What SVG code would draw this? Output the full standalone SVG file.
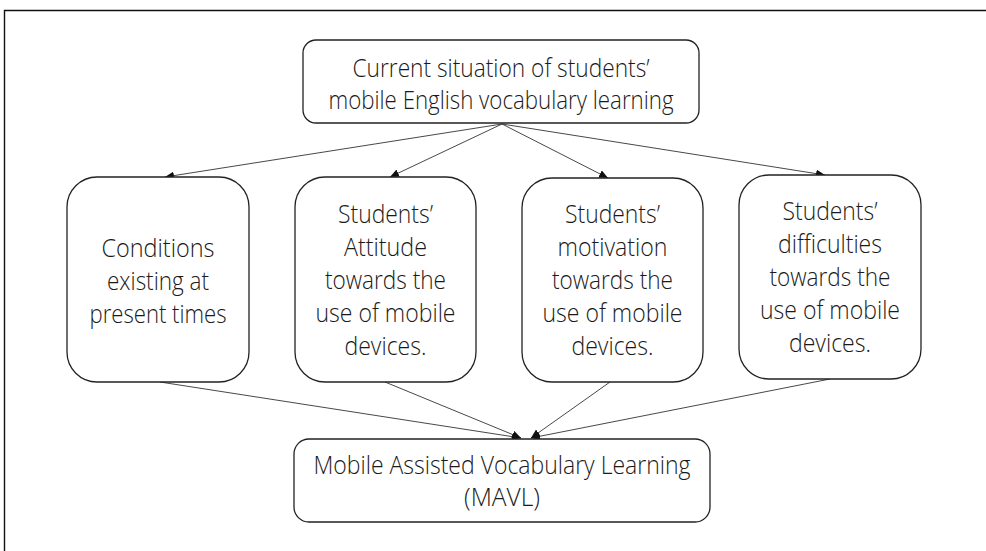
<svg xmlns="http://www.w3.org/2000/svg" width="986" height="551" viewBox="0 0 986 551">
  <style>
    .frame { fill: none; stroke: #111; stroke-width: 1.4; }
    .box { fill: #fff; stroke: #222; stroke-width: 1.3; }
    .edge { fill: none; stroke: #333; stroke-width: 0.9; }
    .label { font-family: "Open Sans", "Noto Sans", "Liberation Sans", sans-serif; font-weight: 300; font-size: 25px; fill: #1a1a1a; text-anchor: middle; }
  </style>
  <defs>
    <marker id="arrow" markerUnits="userSpaceOnUse" markerWidth="10" markerHeight="8" refX="9" refY="4" orient="auto">
      <path d="M0,0 L9,4 L0,8 Z" fill="#111"/>
    </marker>
  </defs>

  <rect width="986" height="551" fill="#fff"/>
  <!-- page frame: left and top edges -->
  <path class="frame" d="M4.5,551 V10.5 H986"/>

  <g id="connectors">
    <line class="edge" x1="502" y1="124" x2="165" y2="177" marker-end="url(#arrow)"/>
    <line class="edge" x1="502" y1="124" x2="390" y2="177" marker-end="url(#arrow)"/>
    <line class="edge" x1="502" y1="124" x2="608" y2="178" marker-end="url(#arrow)"/>
    <line class="edge" x1="502" y1="124" x2="825" y2="175" marker-end="url(#arrow)"/>
    <line class="edge" x1="160" y1="382" x2="521" y2="438" marker-end="url(#arrow)"/>
    <line class="edge" x1="385" y1="382" x2="521" y2="438" marker-end="url(#arrow)"/>
    <line class="edge" x1="610" y1="382" x2="531" y2="438" marker-end="url(#arrow)"/>
    <line class="edge" x1="830" y1="379" x2="531" y2="438" marker-end="url(#arrow)"/>
  </g>

  <g id="current-situation">
    <rect class="box" x="303" y="40" width="396" height="83" rx="13"/>
    <text class="label" x="501" y="77" textLength="297" lengthAdjust="spacingAndGlyphs">Current situation of students’</text>
    <text class="label" x="501" y="109" textLength="345" lengthAdjust="spacingAndGlyphs">mobile English vocabulary learning</text>
  </g>

  <g id="conditions">
    <rect class="box" x="67" y="177" width="182" height="205" rx="30"/>
    <text class="label" x="158" y="257" textLength="113" lengthAdjust="spacingAndGlyphs">Conditions</text>
    <text class="label" x="158" y="290" textLength="102" lengthAdjust="spacingAndGlyphs">existing at</text>
    <text class="label" x="158" y="323" textLength="137" lengthAdjust="spacingAndGlyphs">present times</text>
  </g>

  <g id="attitude">
    <rect class="box" x="295" y="177" width="181" height="205" rx="30"/>
    <text class="label" x="385.5" y="223" textLength="95" lengthAdjust="spacingAndGlyphs">Students’</text>
    <text class="label" x="385.5" y="256" textLength="83" lengthAdjust="spacingAndGlyphs">Attitude</text>
    <text class="label" x="385.5" y="289" textLength="121" lengthAdjust="spacingAndGlyphs">towards the</text>
    <text class="label" x="385.5" y="322" textLength="140" lengthAdjust="spacingAndGlyphs">use of mobile</text>
    <text class="label" x="385.5" y="355" textLength="82" lengthAdjust="spacingAndGlyphs">devices.</text>
  </g>

  <g id="motivation">
    <rect class="box" x="522" y="178" width="181" height="204" rx="30"/>
    <text class="label" x="612.5" y="223" textLength="95" lengthAdjust="spacingAndGlyphs">Students’</text>
    <text class="label" x="612.5" y="256" textLength="110" lengthAdjust="spacingAndGlyphs">motivation</text>
    <text class="label" x="612.5" y="289" textLength="121" lengthAdjust="spacingAndGlyphs">towards the</text>
    <text class="label" x="612.5" y="322" textLength="140" lengthAdjust="spacingAndGlyphs">use of mobile</text>
    <text class="label" x="612.5" y="355" textLength="82" lengthAdjust="spacingAndGlyphs">devices.</text>
  </g>

  <g id="difficulties">
    <rect class="box" x="739" y="175" width="182" height="204" rx="30"/>
    <text class="label" x="830" y="220" textLength="95" lengthAdjust="spacingAndGlyphs">Students’</text>
    <text class="label" x="830" y="253" textLength="104" lengthAdjust="spacingAndGlyphs">difficulties</text>
    <text class="label" x="830" y="286" textLength="121" lengthAdjust="spacingAndGlyphs">towards the</text>
    <text class="label" x="830" y="319" textLength="140" lengthAdjust="spacingAndGlyphs">use of mobile</text>
    <text class="label" x="830" y="352" textLength="82" lengthAdjust="spacingAndGlyphs">devices.</text>
  </g>

  <g id="mavl">
    <rect class="box" x="294" y="439" width="416" height="83" rx="15"/>
    <text class="label" x="502" y="474" textLength="377" lengthAdjust="spacingAndGlyphs">Mobile Assisted Vocabulary Learning</text>
    <text class="label" x="502" y="506" textLength="76" lengthAdjust="spacingAndGlyphs">(MAVL)</text>
  </g>
</svg>
